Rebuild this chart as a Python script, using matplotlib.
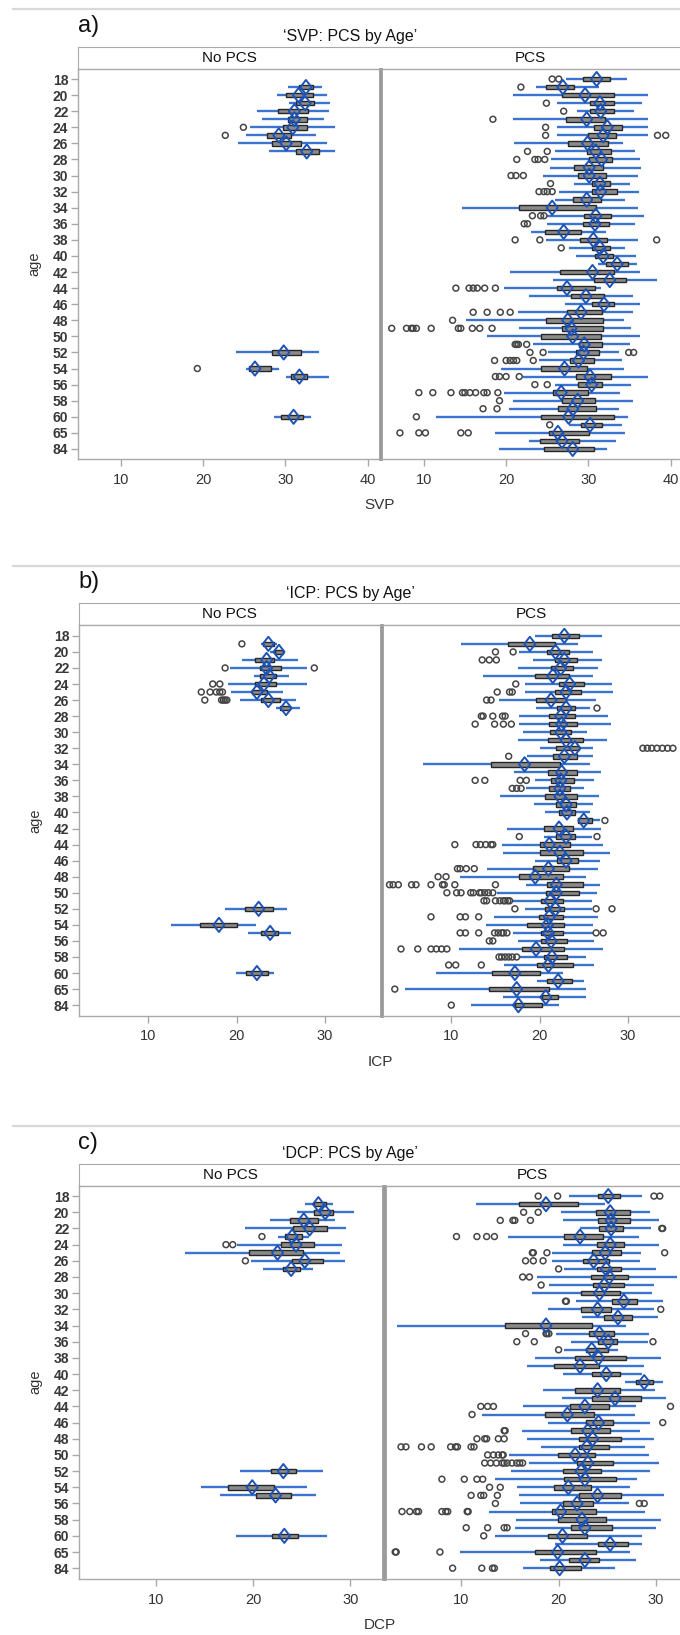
import numpy as np
import matplotlib.pyplot as plt
from matplotlib import font_manager
from matplotlib.path import Path
from matplotlib.lines import Line2D

# fonts: narrow sans if it is there
names = {f.name for f in font_manager.fontManager.ttflist}
NARROW = 'Liberation Sans Narrow' if 'Liberation Sans Narrow' in names else 'Liberation Sans'
plt.rcParams['font.family'] = [NARROW, 'DejaVu Sans']

# ---------------- data ----------------
AGES = [str(a) for a in range(18, 61)] + ['62', '65', '70', '84']
TICK_ROWS = list(range(0, 43, 2)) + [44, 46]
TICK_LABELS = [AGES[i] for i in TICK_ROWS]
NOPCS_ROWS = [1, 2, 3, 4, 5, 6, 7, 8, 9, 34, 36, 37, 42]

# a) SVP
SVP_NO_LO = [30.3, 29.0, 30.5, 26.6, 27.2, 25.7, 25.2, 24.2, 28.0, 24.0, 25.2, 30.1, 28.6]
SVP_NO_Q1 = [31.7, 30.1, 31.3, 29.1, 30.3, 29.7, 27.8, 28.4, 31.3, 28.4, 25.6, 30.7, 29.5]
SVP_NO_Q3 = [33.3, 33.3, 33.5, 32.7, 32.6, 32.6, 30.7, 31.9, 34.1, 31.9, 28.3, 32.6, 32.1]
SVP_NO_HI = [34.4, 35.1, 35.4, 35.3, 34.7, 36.0, 33.7, 35.1, 36.0, 34.1, 29.2, 35.3, 33.1]
SVP_NO_MEAN = [32.5, 31.6, 32.4, 31.1, 31.1, 30.9, 29.2, 30.1, 32.6, 29.8, 26.3, 31.7, 31.0]
SVP_NO_OUT = [[], [], [], [], [], [24.9], [22.7], [], [], [], [19.3], [], []]

SVP_PCS_LO = [27.3, 23.6, 20.9, 26.2, 28.6, 20.9, 26.2, 26.2, 21.0, 26.0, 25.4, 25.3, 24.5, 28.3, 26.4, 26.0,
              14.6, 25.0, 25.0, 23.0, 24.8, 27.6, 28.5, 31.2, 20.5, 25.7, 19.8, 22.8, 27.1, 21.4, 15.1, 21.6,
              17.7, 23.3, 25.1, 24.0, 19.4, 22.0, 26.0, 19.7, 20.9, 20.4, 11.5, 27.7, 18.7, 22.8, 19.1]
SVP_PCS_Q1 = [29.4, 24.9, 26.8, 30.2, 30.2, 27.3, 30.7, 29.9, 27.5, 29.8, 30.1, 28.3, 28.8, 30.4, 30.4, 28.1,
              21.6, 29.5, 29.3, 24.7, 29.0, 30.5, 30.8, 32.2, 26.6, 30.7, 26.2, 27.9, 30.4, 27.4, 24.9, 26.8,
              24.3, 28.9, 28.5, 27.8, 24.3, 28.5, 28.8, 25.7, 26.8, 26.3, 24.2, 29.1, 25.2, 24.1, 24.6]
SVP_PCS_Q3 = [32.6, 28.3, 33.1, 33.1, 33.1, 32.0, 34.1, 33.4, 32.4, 32.7, 32.9, 31.8, 32.1, 32.6, 33.5, 31.5,
              30.9, 32.7, 32.5, 29.1, 32.3, 32.6, 33.0, 34.8, 33.1, 34.6, 30.8, 31.9, 33.1, 31.7, 31.8, 31.8,
              31.5, 31.7, 31.3, 30.7, 29.8, 32.7, 31.7, 30.0, 30.8, 30.9, 33.1, 31.6, 30.1, 28.9, 30.7]
SVP_PCS_HI = [34.7, 31.3, 37.2, 36.5, 35.5, 37.3, 37.3, 37.3, 34.2, 35.7, 36.3, 36.4, 36.0, 35.0, 36.2, 34.5,
              36.0, 36.7, 35.7, 32.1, 36.0, 34.5, 35.8, 35.9, 36.3, 38.4, 31.5, 35.4, 36.3, 35.4, 34.3, 35.2,
              36.3, 35.0, 33.7, 34.1, 34.3, 37.3, 35.2, 33.8, 35.4, 33.7, 34.8, 34.1, 34.5, 33.4, 32.3]
SVP_PCS_MEAN = [31.0, 26.9, 29.6, 31.4, 31.5, 29.8, 32.3, 31.8, 29.9, 30.9, 31.6, 30.1, 30.1, 31.4, 31.5, 29.8,
                25.6, 30.9, 30.8, 27.0, 30.6, 31.4, 31.8, 33.5, 30.5, 32.6, 27.4, 29.7, 31.9, 29.1, 27.5, 27.9,
                28.1, 29.5, 29.4, 28.8, 27.1, 30.2, 30.4, 26.7, 28.7, 28.1, 27.6, 30.2, 26.3, 26.8, 28.1]
SVP_PCS_OUT = [[25.6, 26.4], [21.8], [], [24.9], [27.0], [18.4], [24.8], [24.8, 38.4, 39.4],
               [], [22.6, 25.0], [21.3, 23.5, 23.9, 24.7], [], [20.6, 21.2, 22.1], [25.4],
               [24.0, 24.6, 25.0, 25.6], [], [], [23.2, 24.2, 24.6], [22.2, 22.6], [],
               [21.1, 24.1, 38.3], [26.7], [], [], [], [],
               [13.9, 15.5, 16.0, 16.5, 17.4, 18.7], [], [], [16.0, 17.7, 19.3, 20.5], [13.5],
               [6.1, 7.9, 8.5, 8.7, 9.1, 10.9, 14.2, 14.5, 15.9, 16.8, 18.3], [],
               [21.1, 21.3, 21.5, 22.5], [22.9, 24.5, 34.9, 35.5], [18.6, 20.0, 20.5, 20.9, 21.3, 23.3],
               [], [18.7, 19.2, 20.0, 21.6], [23.5, 25.0],
               [9.4, 11.1, 13.3, 14.7, 15.0, 15.6, 16.3, 17.3, 17.7, 19.0], [19.2], [17.2, 18.9],
               [9.1], [25.3], [7.1, 9.4, 10.2, 14.5, 15.4], [], []]

# b) ICP
ICP_NO_LO = [22.8, 23.8, 20.6, 19.3, 22.0, 19.0, 19.4, 20.4, 24.5, 18.7, 12.6, 21.3, 19.9]
ICP_NO_Q1 = [23.0, 24.3, 22.1, 22.6, 22.6, 22.1, 21.8, 22.8, 24.9, 20.9, 15.9, 22.8, 21.1]
ICP_NO_Q3 = [24.2, 25.2, 24.2, 25.0, 24.5, 24.5, 23.4, 24.9, 26.0, 24.1, 20.0, 24.7, 23.6]
ICP_NO_HI = [24.6, 25.5, 26.9, 28.0, 25.9, 28.0, 25.2, 26.7, 27.2, 25.7, 22.2, 26.2, 24.2]
ICP_NO_MEAN = [23.6, 24.8, 23.4, 23.4, 23.7, 23.1, 22.3, 23.6, 25.6, 22.5, 18.0, 23.8, 22.3]
ICP_NO_OUT = [[20.6], [], [], [18.7, 28.8], [], [17.3, 18.1], [16.0, 17.0, 17.7, 18.1, 18.4],
              [16.4, 18.3, 18.5, 18.7, 18.9], [], [], [], [], []]

ICP_PCS_LO = [19.5, 11.1, 17.7, 19.2, 17.5, 13.6, 18.3, 18.4, 15.4, 19.6, 17.7, 17.7, 18.1, 17.5, 20.0, 18.6,
              6.8, 17.1, 19.5, 18.5, 15.5, 19.4, 20.6, 24.3, 16.3, 20.5, 15.7, 15.8, 19.5, 14.0, 11.0, 18.5,
              15.2, 17.0, 18.3, 14.8, 13.9, 17.0, 17.6, 10.9, 17.7, 16.0, 8.3, 19.7, 4.7, 15.9, 12.2]
ICP_PCS_Q1 = [21.4, 16.4, 20.8, 21.8, 21.3, 19.5, 22.2, 21.7, 19.6, 22.0, 21.1, 21.1, 21.2, 21.0, 21.9, 21.5,
              14.5, 20.9, 21.3, 21.1, 20.6, 21.9, 22.2, 24.4, 20.5, 21.9, 20.0, 20.1, 22.0, 19.2, 17.7, 20.8,
              20.7, 20.2, 20.6, 19.9, 18.6, 20.2, 20.2, 18.0, 20.5, 19.7, 14.6, 20.8, 14.3, 20.3, 17.2]
ICP_PCS_Q3 = [24.5, 21.7, 23.3, 24.2, 23.8, 23.3, 25.0, 24.7, 23.0, 24.0, 24.0, 24.2, 23.6, 24.9, 24.5, 24.2,
              22.3, 24.2, 23.9, 23.5, 24.2, 24.1, 24.0, 25.9, 23.8, 24.0, 23.4, 24.9, 24.4, 23.3, 22.6, 24.9,
              24.5, 22.6, 22.8, 22.6, 22.8, 22.7, 23.1, 22.8, 23.1, 23.8, 20.0, 23.7, 21.1, 22.1, 20.3]
ICP_PCS_HI = [27.1, 24.3, 26.0, 27.1, 26.6, 26.0, 28.2, 28.3, 26.4, 25.7, 27.7, 28.1, 25.4, 27.6, 26.0, 26.0,
              25.7, 27.0, 26.2, 25.0, 26.7, 26.0, 25.7, 26.8, 27.0, 25.9, 27.2, 28.0, 26.8, 26.6, 25.3, 26.8,
              26.5, 25.9, 25.9, 26.6, 26.0, 26.0, 26.2, 27.2, 25.3, 26.2, 22.7, 25.0, 25.3, 25.3, 22.2]
ICP_PCS_MEAN = [22.8, 18.9, 21.8, 22.8, 22.4, 21.5, 23.4, 23.0, 21.3, 23.0, 22.4, 22.5, 22.4, 23.0, 24.0, 22.8,
                18.3, 22.5, 22.4, 22.3, 22.3, 23.0, 23.1, 25.0, 22.2, 23.0, 21.1, 22.3, 23.0, 21.0, 19.5, 21.9,
                21.9, 21.2, 21.8, 21.1, 20.9, 21.0, 21.3, 19.6, 21.4, 21.0, 17.2, 22.1, 17.4, 20.7, 17.6]
ICP_PCS_OUT = [[], [], [15.0, 17.0], [13.5, 14.3, 15.1], [], [], [17.3], [15.2, 16.6, 16.9], [14.0, 14.5],
               [26.5], [13.4, 13.6, 14.7, 15.8, 16.1], [12.7, 14.9, 15.9, 16.8], [], [],
               [31.7, 32.2, 32.7, 33.3, 33.9, 34.5, 35.1], [16.5], [], [],
               [12.7, 13.8, 17.8, 18.5], [16.9, 17.4, 17.9], [], [], [], [27.4], [], [17.7, 26.5],
               [10.4, 12.8, 13.3, 13.9, 14.5, 14.7], [], [], [10.7, 11.0, 11.7, 12.6], [8.5, 9.4],
               [3.0, 3.4, 4.0, 5.5, 6.0, 7.7, 9.0, 9.2, 10.4, 15.0],
               [9.5, 10.6, 11.1, 12.2, 12.5, 13.2, 13.4, 13.8, 14.2, 14.7],
               [13.7, 14.0, 15.0, 15.5, 15.9, 16.1, 16.4, 16.6], [17.2, 26.4, 28.2], [7.7, 11.0, 11.6, 13.1],
               [], [11.0, 11.6, 13.1, 14.9, 15.3, 15.7, 15.9, 16.3, 26.4, 27.2], [14.3, 14.7],
               [4.3, 6.2, 7.7, 8.3, 8.9, 9.5], [15.4, 15.7, 16.1, 16.5, 16.9, 17.4], [9.7, 10.5, 13.4],
               [], [], [3.6], [], [10.0]]

# c) DCP
DCP_NO_LO = [25.3, 24.5, 21.7, 19.2, 22.6, 18.3, 13.0, 19.8, 21.0, 18.6, 14.6, 16.6, 18.2]
DCP_NO_Q1 = [26.3, 26.3, 23.8, 24.1, 23.3, 22.9, 19.6, 24.0, 23.1, 21.8, 17.4, 20.3, 21.9]
DCP_NO_Q3 = [27.5, 28.2, 26.7, 27.6, 25.0, 26.3, 25.1, 27.2, 24.8, 24.4, 22.1, 23.9, 24.6]
DCP_NO_HI = [28.2, 30.4, 28.4, 29.5, 25.7, 29.1, 28.9, 29.4, 26.1, 27.2, 25.5, 26.5, 27.6]
DCP_NO_MEAN = [26.7, 27.4, 25.2, 25.8, 24.0, 24.4, 22.5, 25.3, 23.9, 23.1, 19.9, 22.3, 23.2]
DCP_NO_OUT = [[], [], [], [], [20.9], [17.2, 17.9], [], [19.2], [], [], [], [], []]

DCP_PCS_LO = [21.1, 11.5, 20.2, 20.4, 22.2, 14.8, 20.5, 19.3, 19.3, 20.6, 17.8, 19.0, 17.3, 21.8, 18.9, 22.4,
              3.4, 19.7, 21.3, 20.6, 17.6, 16.7, 20.4, 26.8, 18.4, 20.3, 16.3, 12.1, 18.9, 16.2, 16.7, 18.2,
              14.9, 17.0, 15.1, 13.5, 15.7, 15.9, 16.0, 12.8, 15.6, 15.5, 13.5, 19.6, 9.9, 18.1, 16.3]
DCP_PCS_Q1 = [24.0, 15.9, 23.8, 24.0, 24.1, 20.6, 23.9, 23.4, 22.5, 23.9, 23.3, 23.5, 22.3, 25.5, 22.3, 24.7,
              14.5, 23.1, 24.0, 22.8, 21.7, 19.5, 23.4, 28.0, 21.7, 23.4, 21.2, 18.6, 22.8, 21.3, 22.1, 22.1,
              19.9, 21.9, 20.5, 20.6, 19.5, 22.1, 20.4, 19.3, 19.9, 21.3, 18.9, 24.0, 17.6, 21.1, 19.1]
DCP_PCS_Q3 = [26.3, 22.0, 27.3, 27.3, 26.6, 24.6, 26.7, 26.4, 25.2, 26.4, 27.1, 26.7, 26.3, 28.1, 25.4, 27.5,
              23.4, 25.7, 26.0, 25.1, 26.9, 24.1, 26.3, 29.7, 26.3, 28.5, 25.2, 23.6, 25.6, 25.3, 26.4, 25.2,
              23.7, 25.6, 24.4, 25.9, 23.3, 26.4, 23.5, 23.8, 24.9, 25.5, 22.9, 27.1, 23.8, 24.1, 22.3]
DCP_PCS_HI = [28.6, 24.8, 29.4, 30.3, 29.5, 28.3, 30.3, 28.5, 28.4, 30.0, 32.2, 29.8, 29.6, 30.7, 29.8, 30.2,
              26.9, 29.3, 29.2, 26.1, 30.5, 28.8, 28.6, 30.7, 29.9, 31.0, 28.0, 27.9, 29.4, 28.4, 29.8, 28.9,
              29.3, 30.3, 29.4, 28.1, 27.3, 30.8, 27.2, 28.9, 30.5, 30.0, 28.6, 28.6, 27.3, 28.0, 25.8]
DCP_PCS_MEAN = [25.1, 18.7, 25.3, 25.4, 25.4, 22.2, 25.3, 24.8, 23.6, 24.9, 25.2, 24.7, 24.2, 26.7, 24.0, 26.1,
                18.7, 24.2, 25.1, 23.4, 24.1, 22.2, 24.9, 28.8, 24.0, 25.8, 22.7, 20.9, 24.1, 23.0, 23.5, 22.9,
                21.7, 23.0, 22.3, 22.7, 21.0, 24.0, 21.9, 20.2, 22.4, 22.7, 20.4, 25.3, 19.9, 22.7, 20.1]
DCP_PCS_OUT = [[17.9, 19.9, 29.8, 30.4], [], [16.4, 17.9], [14.0, 15.3, 15.5, 17.1], [30.6, 30.7],
               [9.5, 11.6, 12.6, 13.4], [], [17.3, 17.4, 18.8, 30.9], [16.6, 17.4, 18.4], [20.0],
               [16.3, 17.0], [18.2], [], [20.7, 20.8], [30.5], [], [], [16.6, 18.7, 18.8, 19.0],
               [15.7, 17.5, 29.7], [20.0], [], [], [], [], [], [], [12.0, 12.7, 13.3, 31.5], [11.1],
               [30.7], [14.4, 14.5], [11.6, 12.4, 12.6, 13.8, 14.4],
               [3.8, 4.3, 5.9, 6.9, 8.9, 9.4, 9.6, 11.0, 11.3], [12.7, 13.3, 13.8, 14.2, 14.3],
               [12.4, 13.0, 13.6, 14.2, 14.4, 14.7, 15.2, 15.7, 16.0, 16.3], [],
               [8.0, 10.3, 11.6, 12.2], [12.9, 14.0], [11.0, 12.0, 12.3, 13.7], [13.5, 28.3, 28.8],
               [3.9, 4.7, 5.4, 5.6, 8.0, 8.4, 8.6, 10.6, 10.7], [], [10.5, 12.7, 14.4, 14.7], [12.3],
               [], [3.2, 3.3, 7.8], [], [9.1, 12.1, 13.2, 13.4]]

# ---------------- drawing ----------------
W, H = 680, 1635
fig = plt.figure(figsize=(W / 100, H / 100), dpi=100)

WHISKER = '#3a74cf'
DIAMOND = '#1d52b5'
BOXFILL = '#8a8a8a'
FRAME = '#a9a9a9'
diamond = Path([(0, 1), (0.78, 0), (0, -1), (-0.78, 0), (0, 1)],
               [Path.MOVETO, Path.LINETO, Path.LINETO, Path.LINETO, Path.CLOSEPOLY])


def px_axes(x0, x1, ytop, ybot):
    return fig.add_axes([x0 / W, 1 - ybot / H, (x1 - x0) / W, (ybot - ytop) / H])


def draw_boxes(ax, rows, lo, q1, q3, hi, mean, outs):
    rows = np.asarray(rows)
    ax.hlines(rows, lo, hi, color=WHISKER, lw=1.7, zorder=2)
    ax.barh(rows, np.subtract(q3, q1), left=q1, height=0.56, color=BOXFILL,
            edgecolor='#262626', lw=1.0, zorder=3)
    ox = [v for o in outs for v in o]
    oy = [r for r, o in zip(rows, outs) for _ in o]
    ax.scatter(ox, oy, s=18, facecolor='none', edgecolor='#454545', lw=1.1, zorder=4)
    ax.scatter(mean, rows, s=105, marker=diamond, facecolor='none', edgecolor=DIAMOND,
               lw=1.4, zorder=5)


def style(ax, xlim, xticks, left):
    ax.set_xlim(*xlim)
    ax.set_ylim(47.3, -1.3)
    ax.set_xticks(xticks)
    ax.set_xticklabels([str(t) for t in xticks], fontsize=10.5, color='#333333')
    ax.tick_params(axis='x', length=5, width=1, color=FRAME, pad=5)
    for s in ax.spines.values():
        s.set_color(FRAME)
        s.set_linewidth(1.0)
    if left:
        ax.set_yticks(TICK_ROWS)
        ax.set_yticklabels(TICK_LABELS, fontsize=10, color='#383838', fontweight='bold')
        ax.tick_params(axis='y', length=5, width=1, color=FRAME, pad=2)
        ax.spines['right'].set_linewidth(2.0)
        ax.spines['right'].set_color('#9a9a9a')
    else:
        ax.set_yticks([])
        ax.spines['left'].set_linewidth(2.0)
        ax.spines['left'].set_color('#9a9a9a')


panels = [
    dict(tag='a)', title='\u2018SVP: PCS by Age\u2019', xlabel='SVP', top=68.6, bot=459.4,
         lx=(78, 380), rx=(381, 683), xlim=(4.8, 41.5), xticks=[10, 20, 30, 40],
         no=(SVP_NO_LO, SVP_NO_Q1, SVP_NO_Q3, SVP_NO_HI, SVP_NO_MEAN, SVP_NO_OUT),
         pcs=(SVP_PCS_LO, SVP_PCS_Q1, SVP_PCS_Q3, SVP_PCS_HI, SVP_PCS_MEAN, SVP_PCS_OUT)),
    dict(tag='b)', title='\u2018ICP: PCS by Age\u2019', xlabel='ICP', top=625.4, bot=1015.6,
         lx=(79, 380.5), rx=(382, 683.5), xlim=(2.15, 36.3), xticks=[10, 20, 30],
         no=(ICP_NO_LO, ICP_NO_Q1, ICP_NO_Q3, ICP_NO_HI, ICP_NO_MEAN, ICP_NO_OUT),
         pcs=(ICP_PCS_LO, ICP_PCS_Q1, ICP_PCS_Q3, ICP_PCS_HI, ICP_PCS_MEAN, ICP_PCS_OUT)),
    dict(tag='c)', title='\u2018DCP: PCS by Age\u2019', xlabel='DCP', top=1185.6, bot=1578.7,
         lx=(79, 382.6), rx=(384.5, 688), xlim=(2.1, 33.3), xticks=[10, 20, 30],
         no=(DCP_NO_LO, DCP_NO_Q1, DCP_NO_Q3, DCP_NO_HI, DCP_NO_MEAN, DCP_NO_OUT),
         pcs=(DCP_PCS_LO, DCP_PCS_Q1, DCP_PCS_Q3, DCP_PCS_HI, DCP_PCS_MEAN, DCP_PCS_OUT)),
]

for p in panels:
    top, bot = p['top'], p['bot']
    # separator line and headings
    sep = top - 59.4
    fig.add_artist(Line2D([13 / W, 1], [1 - sep / H] * 2, color='#d9d9d9', lw=1.6))
    fig.text(78 / W, 1 - (top - 43) / H, p['tag'], fontsize=17, ha='left', va='center',
             family=['Liberation Sans', 'DejaVu Sans'], color='#111111')
    fig.text(350 / W, 1 - (top - 32) / H, p['title'], fontsize=11.5, ha='center', va='center',
             color='#111111')
    # strip header
    sx = fig.add_axes([p['lx'][0] / W, 1 - top / H, (p['rx'][1] - p['lx'][0]) / W, 22 / H])
    sx.set_xticks([])
    sx.set_yticks([])
    for s in sx.spines.values():
        s.set_color(FRAME)
    fig.text(sum(p['lx']) / 2 / W, 1 - (top - 11) / H, 'No PCS', fontsize=11, ha='center',
             va='center', color='#111111')
    fig.text((p['rx'][0] + 680) / 2 / W, 1 - (top - 11) / H, 'PCS', fontsize=11, ha='center',
             va='center', color='#111111')

    axl = px_axes(p['lx'][0], p['lx'][1], top, bot)
    axr = px_axes(p['rx'][0], p['rx'][1], top, bot)
    draw_boxes(axl, NOPCS_ROWS, *p['no'])
    draw_boxes(axr, range(len(AGES)), *p['pcs'])
    style(axl, p['xlim'], p['xticks'], True)
    style(axr, p['xlim'], p['xticks'], False)
    axl.set_ylabel('age', fontsize=10.5, color='#333333', labelpad=8)
    fig.text(380 / W, 1 - (bot + 46) / H, p['xlabel'], fontsize=11, ha='center', va='center',
             color='#333333')

fig.savefig('out.png', dpi=100)
